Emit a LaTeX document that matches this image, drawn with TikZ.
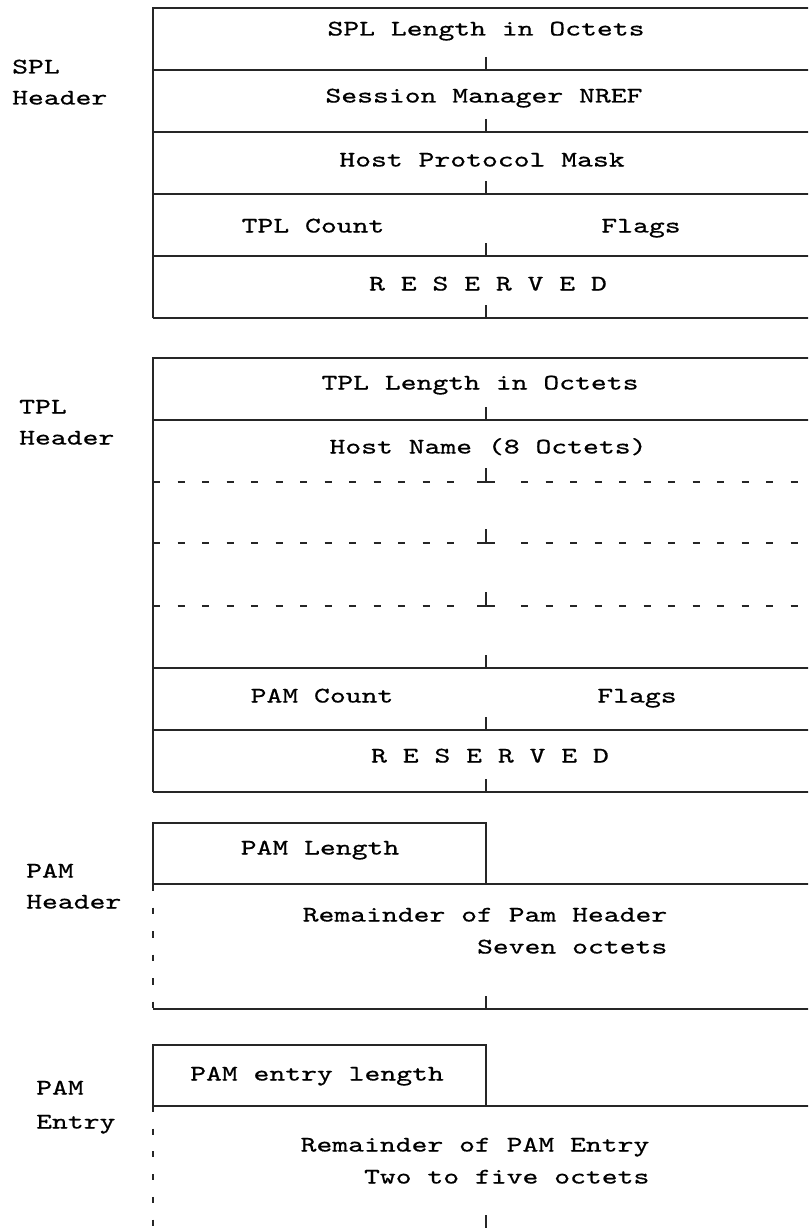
\documentclass[tikz,border=0pt]{standalone}
\usepackage{fontspec}
\usepackage{tikz}
\newfontfamily\pktfont{lmmono10-regular}[Extension=.otf,FakeStretch=1.36,FakeBold=0.6]
\tikzset{
  frm/.style={line width=1.8pt,draw=black!85},
  dsh/.style={frm,dash pattern=on 7pt off 17.5pt},
  vdsh/.style={frm,dash pattern=on 6.5pt off 17pt},
  fld/.style={font={\pktfont\fontsize{22.2}{26}\selectfont},inner sep=0pt,anchor=base},
  lbl/.style={fld,anchor=base west},
}

\begin{document}
\begin{tikzpicture}[x=1pt,y=-1pt]
\useasboundingbox (0,0) rectangle (808,1228);
\clip (0,0) rectangle (808,1228);
% SPL header
\draw[frm] (153,318) -- (153,8) -- (820,8);
\foreach \y in {70,132,194,256,318}{
  \draw[frm] (153,\y) -- (820,\y);
  \draw[frm] (486,\y-13) -- (486,\y);
}
\node[lbl] (splA) at (12,73.5) {SPL};
\node[lbl] (splB) at (12,104.5) {Header};
\node[fld] (splLen) at (486,35.5) {SPL Length in Octets};
\node[fld] (splMgr) at (484,102.5) {Session Manager NREF};
\node[fld] (splMask) at (482,166.5) {Host Protocol Mask};
\node[fld] (splCnt) at (313,232.5) {TPL Count};
\node[fld] (splFlg) at (641,232.5) {Flags};
\node[fld] (splRes) at (488,290.5) {R E S E R V E D};
% TPL header
\draw[frm] (153,792) -- (153,358) -- (820,358);
\foreach \y in {420,668,730,792}{
  \draw[frm] (153,\y) -- (820,\y);
  \draw[frm] (486,\y-13) -- (486,\y);
}
\foreach \y in {482,543,606}{
  \draw[dsh] (153,\y) -- (460,\y);
  \draw[dsh] (521,\y) -- (820,\y);
  \draw[frm] (477,\y) -- (495,\y);
  \draw[frm] (486,\y-14) -- (486,\y);
}
\node[lbl] (tplA) at (19,413.5) {TPL};
\node[lbl] (tplB) at (19,444.5) {Header};
\node[fld] (tplLen) at (480,389.5) {TPL Length in Octets};
\node[fld] (tplHost) at (488,453.5) {Host Name (8 Octets)};
\node[fld] (tplCnt) at (322,702.5) {PAM Count};
\node[fld] (tplFlg) at (637,702.5) {Flags};
\node[fld] (tplRes) at (490,762.5) {R E S E R V E D};
% PAM header
\draw[frm] (153,884) -- (153,823) -- (486,823) -- (486,884);
\draw[frm] (153,884) -- (820,884);
\draw[vdsh] (153,884) -- (153,1009);
\draw[frm] (153,1009) -- (820,1009);
\draw[frm] (486,996) -- (486,1009);
\node[lbl] (pamA) at (26,877.5) {PAM};
\node[lbl] (pamB) at (26,908.5) {Header};
\node[fld] (pamLen) at (320,854.5) {PAM Length};
\node[fld] (pamRest) at (485,921.5) {Remainder of Pam Header};
\node[fld,anchor=base east] (pamSev) at (pamRest.east |- 0,953.5) {Seven octets};
% PAM entry
\draw[frm] (153,1106) -- (153,1045) -- (486,1045) -- (486,1106);
\draw[frm] (153,1106) -- (820,1106);
\draw[vdsh,dash pattern=on 6pt off 16.7pt] (153,1106) -- (153,1240);
\draw[frm] (486,1215) -- (486,1240);
\node[lbl] (entA) at (36,1094.5) {PAM};
\node[lbl] (entB) at (36,1128.5) {Entry};
\node[fld] (entLen) at (317,1080.5) {PAM entry length};
\node[fld] (entRest) at (475,1151.5) {Remainder of PAM Entry};
\node[fld,anchor=base east] (entTwo) at (entRest.east |- 0,1183.5) {Two to five octets};
\end{tikzpicture}
\end{document}
